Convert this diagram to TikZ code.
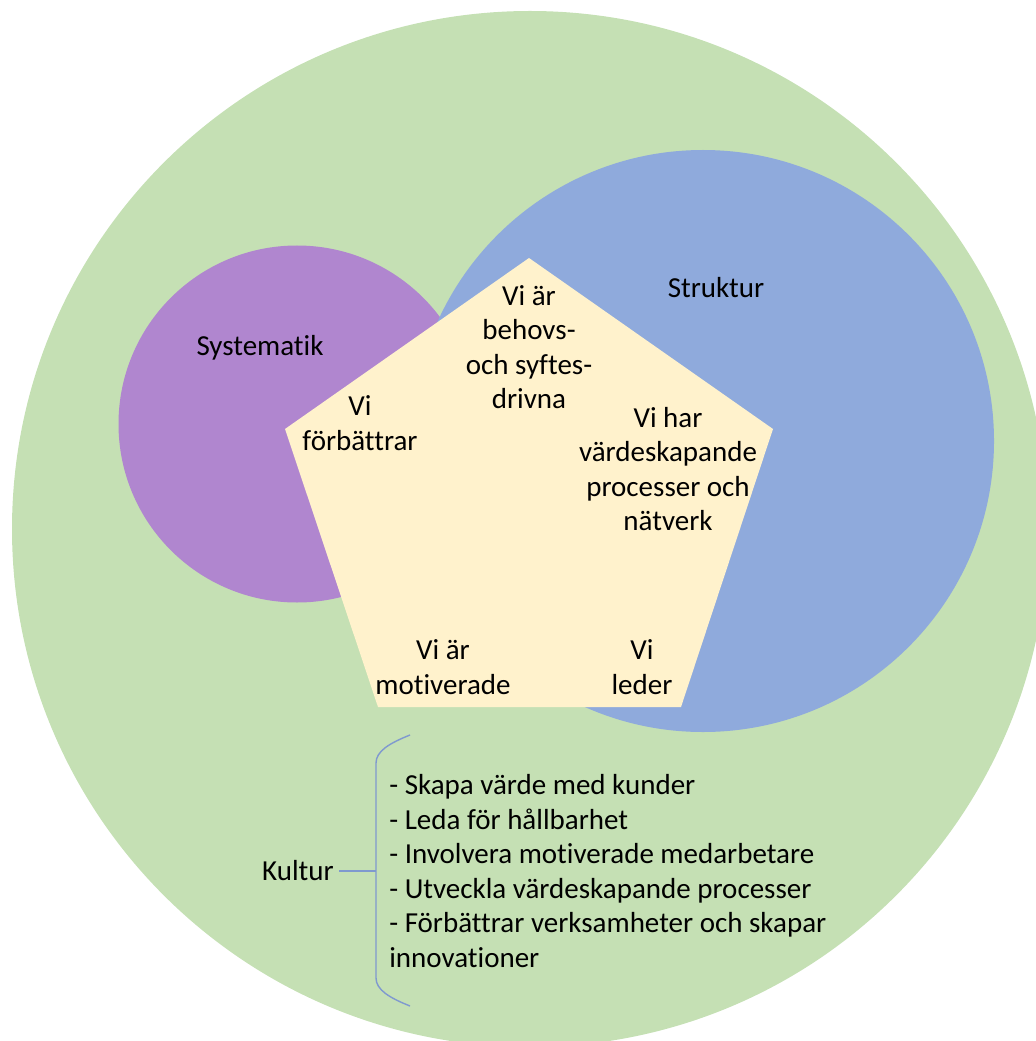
\documentclass[tikz,border=0pt]{standalone}
\usepackage{fontspec}
\setmainfont{Carlito}[Ligatures=NoCommon]
\usetikzlibrary{positioning}
\definecolor{cgreen}{HTML}{C5E0B4}
\definecolor{cblue}{HTML}{8FAADC}
\definecolor{cpurple}{HTML}{B086CF}
\definecolor{cyellow}{HTML}{FFF2CC}
\definecolor{cbrace}{HTML}{7F99CF}
\tikzset{
  every picture/.style={font=\fontsize{16.5}{19.6}\selectfont},
  blob/.style={fill=#1, draw=none},
  txt/.style={align=center, inner sep=3pt, text=black},
  brace/.style={draw=cbrace, line width=0.8pt},
}

\begin{document}
\begin{tikzpicture}
  \useasboundingbox (0, 0) rectangle (20.7, -20.82);
  \fill[blob=cgreen] (10.6, -10.58) circle (10.36);
  \fill[blob=cpurple] (5.94, -8.48) circle (3.57);
  \fill[blob=cblue] (14.06, -8.82) circle (5.82);
  \coordinate (ptop) at (10.58, -5.16);
  \coordinate (pright) at (15.46, -8.58);
  \coordinate (pbr) at (13.62, -14.14);
  \coordinate (pbl) at (7.56, -14.14);
  \coordinate (pleft) at (5.7, -8.58);
  \fill[blob=cyellow] (ptop) -- (pright) -- (pbr) -- (pbl) -- (pleft) -- cycle;
  \node[txt] (sys) at (5.2, -6.95) {Systematik};
  \node[txt] (str) at (14.32, -5.75) {Struktur};
  \node[txt] (behov) at (10.58, -6.94) {Vi är\\behovs-\\och syftes-\\drivna};
  \node[txt] (forb) at (7.2, -8.46) {Vi\\förbättrar};
  \node[txt] (varde) at (13.36, -9.38) {Vi har\\värdeskapande\\processer och\\nätverk};
  \node[txt] (motiv) at (8.86, -13.34) {Vi är\\motiverade};
  \node[txt] (leder) at (12.84, -13.34) {Vi\\leder};
  \node[txt] (kultur) at (5.96, -17.42) {Kultur};
  \node[txt, align=left, anchor=west, inner sep=0pt] (lista) at (7.78, -17.42) {- Skapa värde med kunder\\- Leda för hållbarhet\\- Involvera motiverade medarbetare\\- Utveckla värdeskapande processer\\- Förbättrar verksamheter och skapar\\innovationer};
  \coordinate (btop) at (8.2, -14.7);
  \coordinate (bmid) at (7.52, -17.42);
  \coordinate (bbot) at (8.2, -20.12);
  \draw[brace] (btop) .. controls (7.8, -14.86) and (7.52, -15.02) .. (7.52, -15.26) -- (7.52, -19.56) .. controls (7.52, -19.8) and (7.8, -19.96) .. (bbot);
  \draw[brace] (kultur.east) -- (bmid);
\end{tikzpicture}
\end{document}
